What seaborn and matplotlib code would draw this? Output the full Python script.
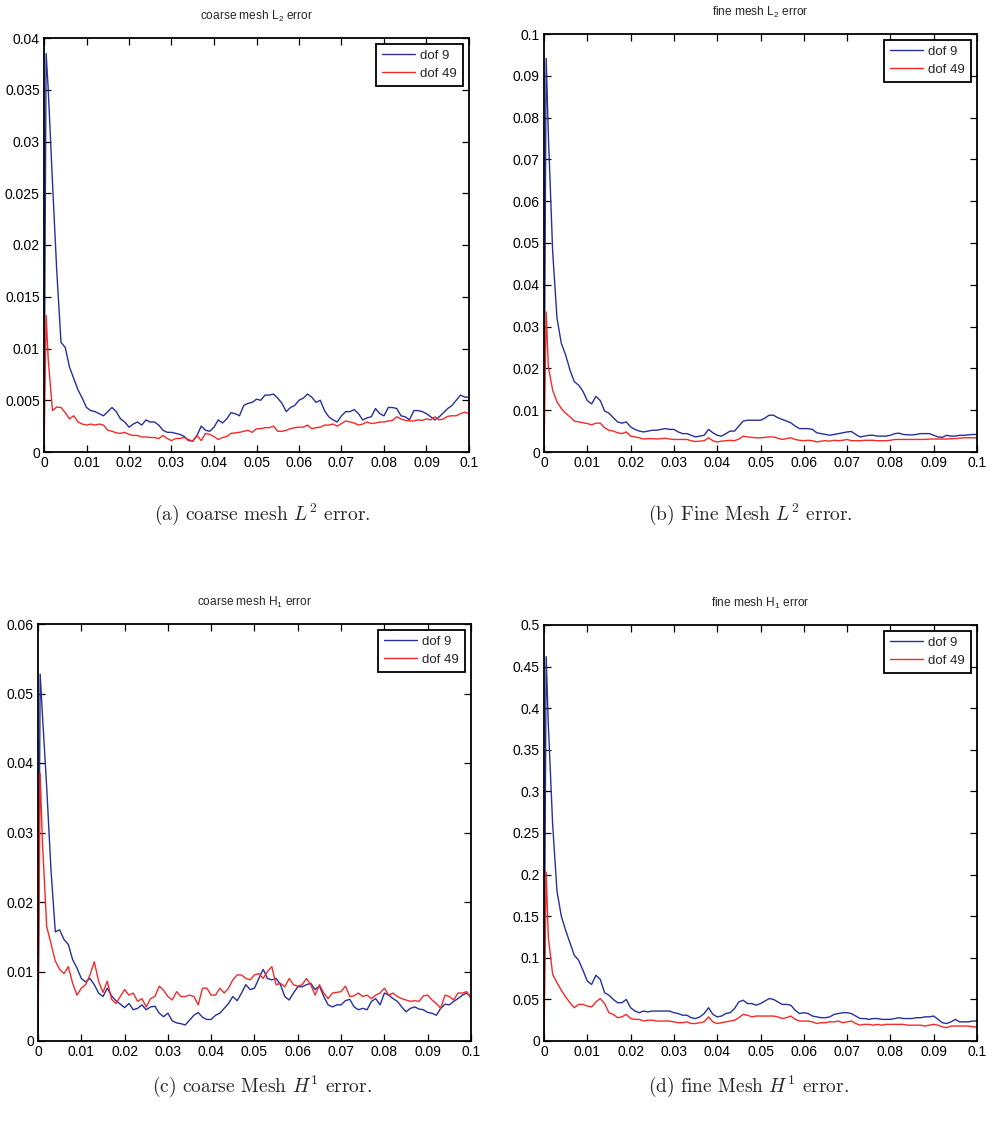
import numpy as np
import pandas as pd
import matplotlib
matplotlib.use("Agg")
import matplotlib.pyplot as plt
from matplotlib import font_manager
import seaborn as sns

# Sampling times (s): the peak sample, then steps of 0.001
t = [0.0, 0.0005] + [round(0.001 * k, 4) for k in range(1, 101)]

# Error histories, values in units of 1e-3
coarse_l2_dof9 = [
    0, 38.5, 35.0, 26.0, 17.5, 10.6, 10.1, 8.2, 7.1, 6.0, 5.2, 4.3,
    4.0, 3.9, 3.7, 3.5, 3.9, 4.3, 3.9, 3.2, 2.9, 2.4,
    2.7, 2.9, 2.6, 3.1, 2.9, 2.9, 2.6, 2.1, 1.9, 1.9,
    1.8, 1.7, 1.5, 1.1, 1.05, 1.6, 2.5, 2.1, 2.0, 2.4,
    3.1, 2.8, 3.2, 3.8, 3.7, 3.5, 4.5, 4.7, 4.8, 5.1,
    5.0, 5.5, 5.5, 5.6, 5.2, 4.7, 3.9, 4.3, 4.5, 5.0,
    5.2, 5.6, 5.3, 4.8, 5.0, 4.0, 3.4, 3.1, 2.9, 3.5,
    3.9, 3.9, 4.1, 3.7, 3.1, 3.3, 3.4, 4.2, 3.7, 3.5,
    4.3, 4.3, 4.2, 3.5, 3.4, 3.1, 4.0, 4.0, 3.9, 3.7,
    3.4, 3.1, 3.4, 3.8, 4.2, 4.5, 5.0, 5.5, 5.3, 5.3]
coarse_l2_dof49 = [
    0, 13.2, 8.9, 4.0, 4.35, 4.3, 3.8, 3.2, 3.5, 2.9, 2.7, 2.6,
    2.7, 2.6, 2.7, 2.6, 2.1, 2.0, 1.85, 1.8, 1.9, 1.7,
    1.6, 1.6, 1.45, 1.45, 1.4, 1.4, 1.3, 1.6, 1.3, 1.1,
    1.3, 1.3, 1.4, 1.2, 1.05, 1.6, 1.1, 1.8, 1.7, 1.5,
    1.2, 1.4, 1.5, 1.8, 1.85, 1.9, 2.0, 2.1, 1.9, 2.25,
    2.25, 2.35, 2.35, 2.5, 2.0, 2.0, 2.1, 2.25, 2.35, 2.4,
    2.4, 2.6, 2.25, 2.35, 2.4, 2.6, 2.6, 2.7, 2.5, 2.75,
    3.0, 2.9, 2.8, 2.6, 2.7, 2.9, 2.75, 2.8, 2.9, 2.9,
    3.0, 3.05, 3.4, 3.2, 3.05, 3.0, 3.0, 3.1, 3.05, 3.2,
    3.1, 3.4, 3.1, 3.2, 3.45, 3.5, 3.5, 3.7, 3.85, 3.7]
fine_l2_dof9 = [
    0, 94.2, 76.0, 48.0, 32.0, 26.0, 23.2, 19.6, 16.8, 16.0, 14.5, 12.3,
    11.5, 13.3, 12.3, 9.8, 9.3, 8.2, 7.2, 6.9, 7.2, 6.0,
    5.4, 5.0, 4.8, 5.0, 5.2, 5.2, 5.4, 5.6, 5.4, 5.4,
    4.8, 4.4, 4.4, 4.0, 3.6, 3.8, 4.0, 5.4, 4.6, 4.0,
    3.8, 4.4, 5.0, 5.0, 6.2, 7.4, 7.6, 7.6, 7.6, 7.6,
    8.1, 8.8, 8.8, 8.2, 7.8, 7.4, 7.0, 6.2, 5.6, 5.6,
    5.6, 5.4, 4.6, 4.4, 4.2, 4.0, 4.2, 4.4, 4.6, 4.8,
    4.9, 4.2, 3.6, 3.8, 4.0, 4.0, 3.8, 3.8, 3.8, 4.0,
    4.4, 4.5, 4.2, 4.1, 4.1, 4.2, 4.4, 4.4, 4.4, 4.0,
    3.6, 3.5, 4.0, 3.8, 3.8, 4.0, 4.0, 4.1, 4.2, 4.2]
fine_l2_dof49 = [
    0, 33.5, 20.4, 14.8, 12.0, 10.4, 9.3, 8.4, 7.4, 7.2, 7.0, 6.8,
    6.5, 6.9, 6.9, 5.8, 5.2, 5.0, 4.6, 4.4, 4.8, 3.8,
    3.6, 3.4, 3.1, 3.2, 3.2, 3.1, 3.2, 3.3, 3.1, 3.0,
    3.0, 3.0, 3.0, 2.7, 2.5, 2.6, 2.7, 3.4, 2.7, 2.4,
    2.6, 2.7, 2.8, 2.7, 3.1, 3.8, 3.6, 3.5, 3.4, 3.4,
    3.5, 3.6, 3.6, 3.3, 3.0, 3.2, 3.4, 3.0, 2.8, 2.7,
    2.8, 2.7, 2.4, 2.6, 2.7, 2.6, 2.8, 2.7, 2.8, 3.0,
    2.7, 2.7, 2.7, 2.8, 2.8, 2.8, 2.7, 2.7, 2.7, 2.8,
    3.0, 3.0, 3.0, 3.0, 3.0, 3.0, 3.0, 3.0, 3.1, 3.1,
    3.1, 3.1, 3.1, 3.2, 3.2, 3.3, 3.4, 3.4, 3.4, 3.4]
coarse_h1_dof9 = [
    0, 52.8, 47.2, 36.6, 24.6, 15.7, 16.0, 14.6, 13.9, 11.7, 10.5, 9.0,
    8.5, 9.0, 8.1, 6.9, 6.4, 7.6, 6.5, 5.8, 5.3, 4.8,
    5.4, 4.5, 4.7, 5.2, 4.5, 4.9, 5.0, 4.0, 3.5, 4.0,
    2.9, 2.6, 2.5, 2.3, 3.0, 3.7, 4.1, 3.4, 3.1, 3.1,
    3.7, 4.0, 4.7, 5.4, 6.4, 5.8, 6.9, 8.1, 7.4, 7.6,
    9.0, 10.3, 9.0, 8.8, 9.0, 8.1, 6.4, 5.9, 6.9, 7.8,
    7.8, 8.1, 8.3, 7.4, 7.9, 6.4, 5.2, 4.9, 5.2, 5.2,
    5.8, 6.0, 4.9, 4.5, 4.7, 4.5, 5.7, 6.1, 5.2, 6.9,
    6.6, 6.1, 5.7, 4.9, 4.2, 4.7, 4.9, 4.6, 4.5, 4.1,
    4.0, 3.7, 4.7, 5.3, 5.2, 5.7, 6.1, 6.6, 6.9, 6.4]
coarse_h1_dof49 = [
    0, 38.5, 29.0, 16.5, 14.0, 11.5, 10.3, 9.7, 10.7, 8.3, 6.6, 7.6,
    8.1, 9.5, 11.4, 8.6, 7.0, 8.6, 6.0, 5.4, 6.4, 7.4,
    6.6, 6.9, 5.7, 6.1, 4.9, 6.1, 6.4, 7.9, 7.3, 6.4,
    5.9, 7.1, 6.4, 6.4, 6.6, 6.4, 5.2, 7.6, 7.6, 6.6,
    6.6, 7.6, 6.9, 7.6, 8.8, 9.5, 9.5, 9.0, 8.8, 9.5,
    9.7, 9.0, 10.0, 10.7, 8.1, 8.3, 7.8, 9.0, 8.1, 7.9,
    8.1, 9.0, 8.1, 6.6, 8.1, 6.9, 6.1, 6.9, 7.0, 7.1,
    7.9, 6.4, 6.5, 6.9, 6.4, 6.6, 6.1, 6.6, 6.9, 7.6,
    6.6, 6.9, 6.4, 6.1, 5.9, 5.7, 5.8, 5.7, 6.5, 6.6,
    5.9, 5.4, 4.7, 6.6, 6.4, 5.9, 6.9, 6.9, 7.1, 6.1]
fine_h1_dof9 = [
    0, 462, 380, 260, 180, 150, 133, 118, 103, 97, 85, 72,
    68, 79, 74, 58, 55, 50, 46, 46, 50, 40,
    36, 34, 36, 35, 36, 36, 36, 36, 36, 34,
    33, 31, 31, 28, 27, 29, 33, 40, 32, 29,
    30, 33, 34, 39, 47, 49, 45, 45, 43, 45,
    48, 51, 50, 47, 44, 44, 43, 37, 33, 34,
    33, 30, 29, 28, 28, 29, 32, 33, 34, 34,
    33, 30, 27, 27, 26, 27, 27, 26, 26, 26,
    27, 28, 27, 27, 27, 28, 28, 29, 29, 30,
    26, 22, 21, 23, 26, 23, 23, 23, 24, 24]
fine_h1_dof49 = [
    0, 203, 125, 80, 70, 61, 53, 46, 40, 44, 44, 42,
    41, 47, 51, 45, 34, 32, 28, 29, 32, 27,
    26, 26, 24, 25, 25, 24, 24, 24, 24, 23,
    22, 22, 23, 21, 21, 22, 23, 29, 23, 21,
    22, 23, 24, 25, 28, 32, 31, 29, 30, 30,
    30, 30, 30, 29, 27, 28, 30, 26, 24, 24,
    24, 23, 21, 22, 22, 23, 23, 24, 22, 23,
    24, 21, 19, 20, 20, 19, 20, 19, 20, 20,
    20, 20, 20, 19, 19, 19, 19, 18, 19, 20,
    19, 17, 16, 18, 18, 18, 18, 18, 17, 17]

series_names = ["dof 9", "dof 49"]
panel_titles = ["coarse mesh L$_2$ error", "fine mesh L$_2$ error",
                "coarse mesh H$_1$ error", "fine mesh H$_1$ error"]
captions = ["(a) coarse mesh $L^2$ error.", "(b) Fine Mesh $L^2$ error.",
            "(c) coarse Mesh $H^1$ error.", "(d) fine Mesh $H^1$ error."]

x_ticks = [0, 0.01, 0.02, 0.03, 0.04, 0.05, 0.06, 0.07, 0.08, 0.09, 0.1]
x_tick_labels = ["0", "0.01", "0.02", "0.03", "0.04", "0.05",
                 "0.06", "0.07", "0.08", "0.09", "0.1"]
y_ticks_a = [0, 0.005, 0.01, 0.015, 0.02, 0.025, 0.03, 0.035, 0.04]
y_labels_a = ["0", "0.005", "0.01", "0.015", "0.02", "0.025", "0.03", "0.035", "0.04"]
y_ticks_b = [0, 0.01, 0.02, 0.03, 0.04, 0.05, 0.06, 0.07, 0.08, 0.09, 0.1]
y_labels_b = ["0", "0.01", "0.02", "0.03", "0.04", "0.05", "0.06", "0.07", "0.08", "0.09", "0.1"]
y_ticks_c = [0, 0.01, 0.02, 0.03, 0.04, 0.05, 0.06]
y_labels_c = ["0", "0.01", "0.02", "0.03", "0.04", "0.05", "0.06"]
y_ticks_d = [0, 0.05, 0.1, 0.15, 0.2, 0.25, 0.3, 0.35, 0.4, 0.45, 0.5]
y_labels_d = ["0", "0.05", "0.1", "0.15", "0.2", "0.25", "0.3", "0.35", "0.4", "0.45", "0.5"]

sns.set_style("ticks")

# Condensed sans face for the plot text when available
installed = {f.name for f in font_manager.fontManager.ttflist}
if "Liberation Sans Narrow" in installed:
    sans = "Liberation Sans Narrow"
    tick_size, legend_size, title_size = 11, 10.5, 10.5
else:
    sans = "Liberation Sans"
    tick_size, legend_size, title_size = 10, 9.5, 8.6

plt.rcParams["font.family"] = [sans, "DejaVu Sans"]
plt.rcParams["mathtext.fontset"] = "custom"
plt.rcParams["mathtext.rm"] = sans
plt.rcParams["mathtext.it"] = sans + ":italic"

palette = {"dof 9": "#27309c", "dof 49": "#f42a2a"}

fig = plt.figure(figsize=(9.86, 11.31), dpi=100)
W, H = 986.0, 1131.0
# axes boxes in pixels: left, top, right, bottom
boxes = [(44, 38, 469, 452), (544, 34, 977, 452),
         (38, 624, 471, 1041), (544, 625, 977, 1041)]
caption_pos = [(262, 514), (750, 514), (262, 1086), (748, 1086)]

panels = [
    (coarse_l2_dof9, coarse_l2_dof49, y_ticks_a, y_labels_a),
    (fine_l2_dof9, fine_l2_dof49, y_ticks_b, y_labels_b),
    (coarse_h1_dof9, coarse_h1_dof49, y_ticks_c, y_labels_c),
    (fine_h1_dof9, fine_h1_dof49, y_ticks_d, y_labels_d),
]

for i, (s9, s49, yt, yl) in enumerate(panels):
    l, tp, r, b = boxes[i]
    ax = fig.add_axes([l / W, 1 - b / H, (r - l) / W, (b - tp) / H])
    df = pd.DataFrame({
        "t": t + t,
        "err": [v * 1e-3 for v in s9] + [v * 1e-3 for v in s49],
        "series": [series_names[0]] * len(t) + [series_names[1]] * len(t),
    })
    sns.lineplot(data=df, x="t", y="err", hue="series", palette=palette,
                 estimator=None, sort=False, linewidth=1.0, ax=ax, legend=False)
    ax.set_xlim(0, 0.1)
    ax.set_ylim(yt[0], yt[-1])
    ax.set_xticks(x_ticks)
    ax.set_xticklabels(x_tick_labels)
    ax.set_yticks(yt)
    ax.set_yticklabels(yl)
    ax.set_xlabel("")
    ax.set_ylabel("")
    ax.tick_params(direction="in", top=True, right=True, length=5, width=0.9,
                   labelsize=tick_size, pad=3, colors="black")
    for sp in ax.spines.values():
        sp.set_visible(True)
        sp.set_linewidth(1.3)
        sp.set_color("black")
    ax.set_title(panel_titles[i], fontsize=title_size, pad=13)
    handles = [plt.Line2D([], [], color=palette[n], lw=1.0) for n in series_names]
    leg = ax.legend(handles, series_names, loc="upper right", fontsize=legend_size,
                    frameon=True, fancybox=False, framealpha=1,
                    edgecolor="black", handlelength=2.5, handletextpad=0.4,
                    borderpad=0.45, labelspacing=0.4, borderaxespad=0.45)
    leg.get_frame().set_linewidth(1.3)
    cx, cy = caption_pos[i]
    fig.text(cx / W, 1 - cy / H, captions[i],
             ha="center", va="center", fontsize=14, family="cmr10",
             math_fontfamily="cm")

fig.savefig("out.png", dpi=100, facecolor="white")
